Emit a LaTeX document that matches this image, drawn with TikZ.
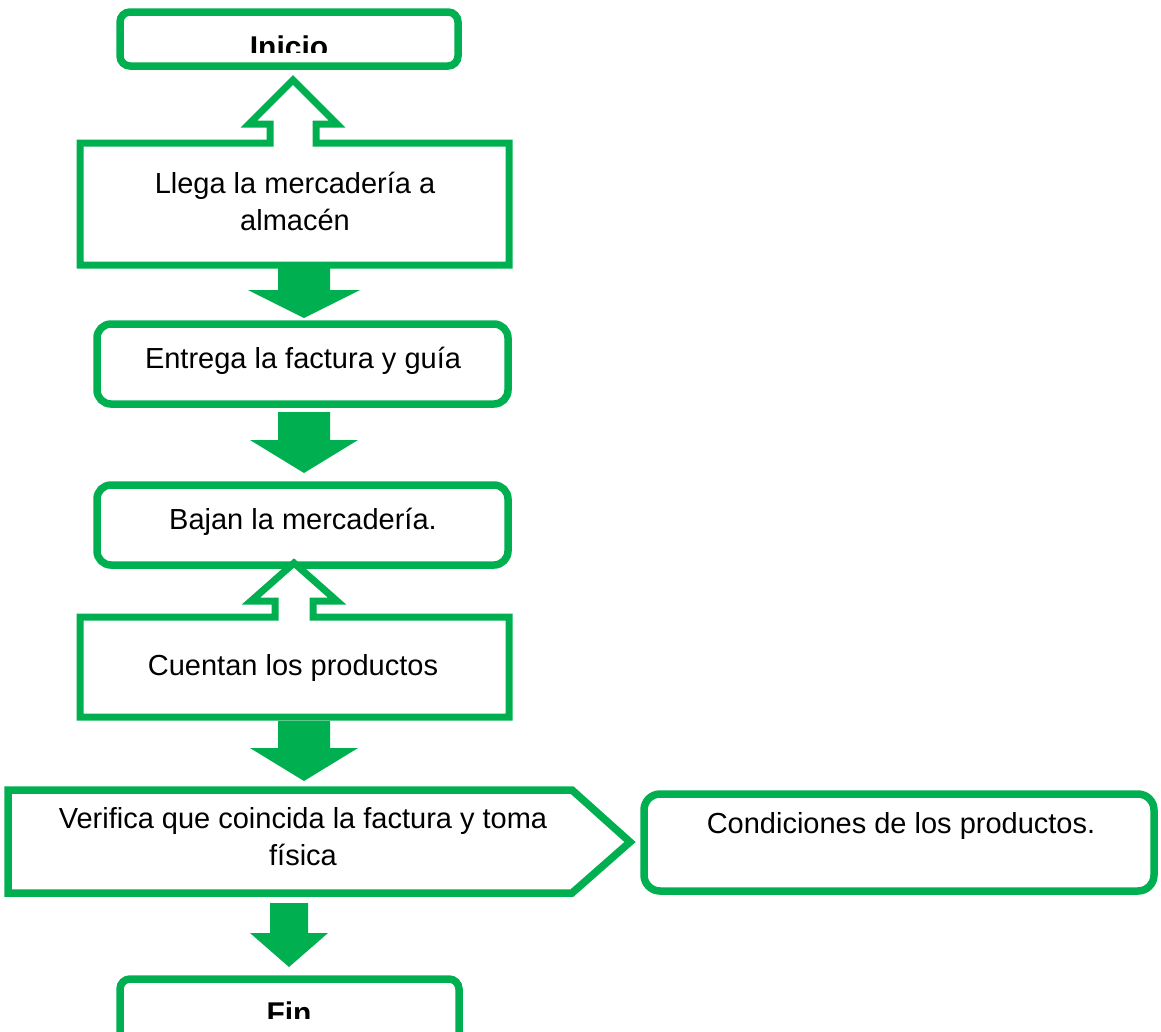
\documentclass[tikz,border=0pt]{standalone}
\usepackage{fontspec}
\setmainfont{Liberation Sans}
\usetikzlibrary{shadows}
\definecolor{ogreen}{RGB}{0,176,80}
\newcommand{\dnblk}[6]{% x, ytop, ybase, ytip, shafthalf, headhalf
  \fill[ogreen] ({#1-#5},#2) -- ({#1+#5},#2) -- ({#1+#5},#3) -- ({#1+#6},#3) -- (#1,#4) -- ({#1-#6},#3) -- ({#1-#5},#3) -- cycle;}
\begin{document}
\begin{tikzpicture}[x=1pt,y=-1pt,
  box/.style={draw=ogreen, line width=7.5pt, fill=white, rounded corners=#1, inner sep=0pt},
  box/.default=14pt,
  callout/.style={draw=ogreen, line width=7pt, fill=white, line join=miter, miter limit=10},
  txt/.style={font=\fontsize{29}{37}\selectfont, inner sep=0pt, anchor=base},
  btxt/.style={font=\fontsize{30}{36}\selectfont\bfseries, inner sep=0pt, anchor=base},
  shad/.style={drop shadow={opacity=0.22, shadow xshift=1.5pt, shadow yshift=-3pt}}
]
\useasboundingbox (0,0) rectangle (1161,1031);
\clip (0,0) rectangle (1161,1031);

% Inicio
\node[box=10pt, minimum width=338pt, minimum height=54pt, shad] (inicio) at (289,39) {};
\begin{scope}
  \clip (120,0) rectangle (460,52);
  \node[btxt] (tinicio) at (289,57) {Inicio};
\end{scope}

% Callout 1
\draw[callout] (80,143) -- (270,143) -- (270,124) -- (249,124) -- (293,80) -- (337,124) -- (316,124) -- (316,143) -- (509,143) -- (509,265) -- (80,265) -- cycle;
\node[txt] (llega1) at (295,193) {Llega la mercadería a};
\node[txt] (llega2) at (295,230) {almacén};

\dnblk{304}{267}{290}{318}{26}{56}

% Entrega
\node[box=14pt, minimum width=411pt, minimum height=80pt] (entrega) at (302.5,364) {};
\node[txt] (tentrega) at (303,368) {Entrega la factura y guía};

\dnblk{304}{412}{440}{473}{26}{54}

% Bajan
\node[box=14pt, minimum width=411pt, minimum height=80pt] (bajan) at (302.5,525) {};
\node[txt] (tbajan) at (303,529) {Bajan la mercadería.};

% Callout 2
\draw[callout] (80,617) -- (275,617) -- (275,601) -- (251,601) -- (294,563) -- (337,601) -- (313,601) -- (313,617) -- (509,617) -- (509,717) -- (80,717) -- cycle;
\node[txt] (tcuentan) at (293,675) {Cuentan los productos};

\dnblk{304}{721}{748}{781}{26}{54}

% Pentagon
\draw[callout, line width=7.5pt] (8,790) -- (572,790) -- (630,842) -- (572,893) -- (8,893) -- cycle;
\node[txt] (tverifica1) at (303,828) {Verifica que coincida la factura y toma};
\node[txt] (tverifica2) at (303,865) {física};

% Condiciones
\node[box=16pt, minimum width=510pt, minimum height=97pt] (condiciones) at (899,842.5) {};
\node[txt] (tcond) at (901,833) {Condiciones de los productos.};

\dnblk{289}{903}{933}{967}{19}{39}

% Fin
\node[box=10pt, minimum width=339pt, minimum height=66pt, shad] (fin) at (289.5,1012) {};
\begin{scope}
  \clip (120,970) rectangle (460,1018);
  \node[btxt] (tfin) at (289,1023) {Fin};
\end{scope}
\end{tikzpicture}
\end{document}
